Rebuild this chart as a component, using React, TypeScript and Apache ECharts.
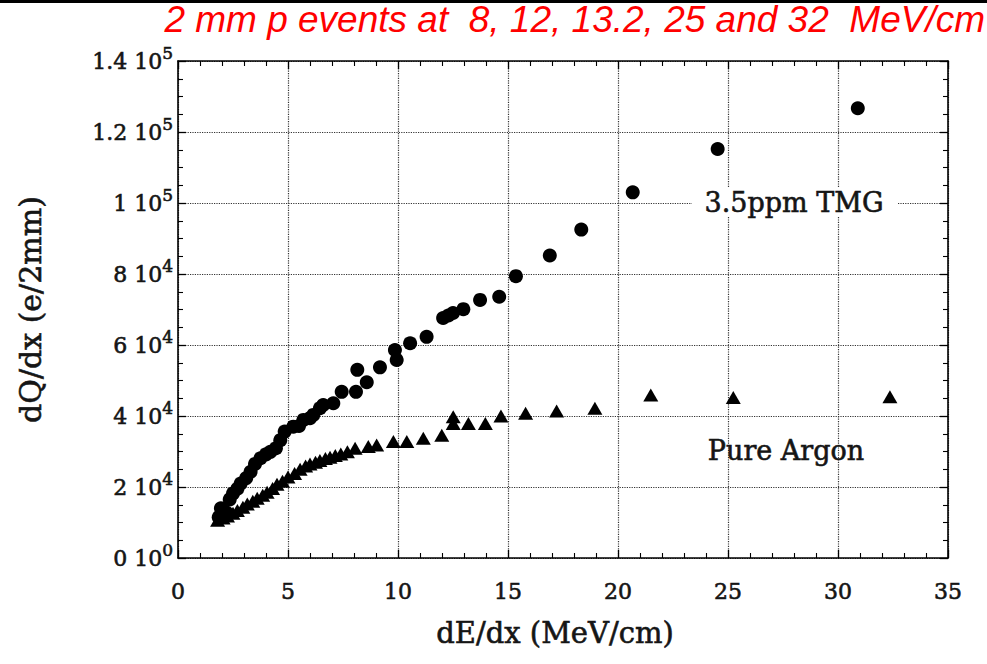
import React, { useEffect, useRef } from "react";
import * as echarts from "echarts";

// dE/dx (MeV/cm), dQ/dx (e/2mm)
const tmgPoints: [number, number][] = [
  [1.85, 11500], [1.95, 14000], [2.2, 12800], [2.35, 16500], [2.5, 18200],
  [2.7, 19500], [2.85, 21000], [3.1, 22500], [3.3, 24300], [3.5, 26500],
  [3.75, 28100], [4.0, 29200], [4.2, 29900], [4.45, 30900], [4.65, 33200],
  [4.85, 35600], [5.24, 37000], [5.5, 37200], [5.7, 38900], [6.0, 39400],
  [6.15, 40300], [6.45, 42200], [6.6, 43100], [7.06, 43600], [7.44, 46800],
  [8.09, 46800], [8.15, 53000], [8.58, 49500], [9.18, 53700], [9.86, 58600],
  [9.94, 55800], [10.55, 60500], [11.3, 62300], [12.05, 67600], [12.29, 68300],
  [12.5, 69000], [12.97, 70100], [13.73, 72700], [14.6, 73600], [15.36, 79400],
  [16.9, 85200], [18.33, 92500], [20.67, 103000], [24.53, 115200], [30.9, 126700],
];

const argonPoints: [number, number][] = [
  [1.8, 10600], [2.05, 11300], [2.25, 11800], [2.5, 12600], [2.7, 13400],
  [2.95, 14300], [3.15, 15200], [3.4, 16000], [3.6, 16800], [3.85, 17700],
  [4.05, 18500], [4.3, 19600], [4.5, 20800], [4.75, 21600], [5.0, 22800],
  [5.3, 23800], [5.55, 25000], [5.8, 25900], [6.0, 26500], [6.25, 27000],
  [6.45, 27500], [6.7, 28000], [6.91, 28400], [7.15, 28900], [7.4, 29300],
  [7.7, 29900], [8.05, 30900], [8.65, 31400], [9.03, 31800], [9.79, 32800],
  [10.4, 32800], [11.15, 33700], [11.99, 34600], [12.51, 37900], [12.51, 39800],
  [13.2, 37900], [13.97, 37900], [14.68, 40000], [15.8, 40800], [17.21, 41400],
  [18.95, 42200], [21.49, 45900], [25.24, 45200], [32.36, 45400],
];

const xTicks = { min: 0, max: 35, interval: 5 };
const yTicks = { min: 0, max: 140000, interval: 20000 };

const titleText = "2 mm p events at  8, 12, 13.2, 25 and 32  MeV/cm";
const xAxisTitle = "dE/dx (MeV/cm)";
const yAxisTitle = "dQ/dx (e/2mm)";
const tmgLabel = "3.5ppm TMG";
const argonLabel = "Pure Argon";

const SERIF = "DejaVu Serif";
const INK = "#151515";
const heavy = { textBorderColor: INK, textBorderWidth: 0.6 };

function yLabel(v: number): string {
  if (v === 0) return "{b|0 10}{s|0}";
  if (v >= 100000) return `{b|${+(v / 100000).toFixed(1)} 10}{s|5}`;
  return `{b|${+(v / 10000).toFixed(1)} 10}{s|4}`;
}

export default function App() {
  const ref = useRef<HTMLDivElement>(null);
  useEffect(() => {
    document.body.style.margin = "0";
    if (!ref.current) return;
    const chart = echarts.init(ref.current, undefined, { renderer: "svg" });
    const axisLine = { show: true, onZero: false, lineStyle: { color: "#000", width: 1.6 } };
    const axisTick = { show: true, inside: true, length: 8, lineStyle: { color: "#000", width: 1.3 } };
    const splitLine = { show: true, lineStyle: { type: "dotted", color: "#333", width: 1.2 } };
    const xMinor = { show: true, splitNumber: 5, length: 5, lineStyle: { color: "#000", width: 1.1 } };
    const yMinor = { show: true, splitNumber: 4, length: 5, lineStyle: { color: "#000", width: 1.1 } };
    chart.setOption({
      animation: false,
      backgroundColor: "#fff",
      grid: { left: 178, top: 61, width: 770, height: 497 },
      xAxis: [
        {
          type: "value", ...xTicks, position: "bottom",
          axisLine, axisTick, minorTick: xMinor, splitLine,
          axisLabel: { color: INK, fontFamily: SERIF, fontSize: 22, margin: 22, ...heavy },
          name: xAxisTitle, nameLocation: "middle", nameGap: 60,
          nameTextStyle: { color: INK, fontFamily: SERIF, fontSize: 29, padding: [0, 16, 0, 0], ...heavy },
        },
        {
          type: "value", ...xTicks, position: "top",
          axisLine, axisTick, minorTick: xMinor, splitLine: { show: false },
          axisLabel: { show: false },
        },
      ],
      yAxis: [
        {
          type: "value", ...yTicks, position: "left",
          axisLine, axisTick, minorTick: yMinor, splitLine,
          axisLabel: {
            formatter: yLabel, margin: 5,
            rich: {
              b: { color: INK, fontFamily: SERIF, fontSize: 22, ...heavy },
              s: { color: INK, fontFamily: SERIF, fontSize: 17, padding: [0, 0, 17, 0], ...heavy },
            },
          },
          name: yAxisTitle, nameLocation: "middle", nameGap: 133,
          nameTextStyle: { color: INK, fontFamily: SERIF, fontSize: 30, ...heavy },
        },
        {
          type: "value", ...yTicks, position: "right",
          axisLine, axisTick, minorTick: yMinor, splitLine: { show: false },
          axisLabel: { show: false },
        },
      ],
      series: [
        {
          name: tmgLabel, type: "scatter", data: tmgPoints, symbol: "circle", symbolSize: 14,
          itemStyle: { color: "#000", opacity: 1 }, z: 3,
        },
        {
          name: argonLabel, type: "scatter", data: argonPoints, symbol: "triangle", symbolSize: [15, 13],
          itemStyle: { color: "#000", opacity: 1 }, z: 3,
        },
      ],
      graphic: [
        { type: "rect", left: 0, top: 0, shape: { width: 987, height: 3 }, style: { fill: "#000" } },
        {
          type: "text", right: 2, top: 1,
          style: { text: titleText, fill: "#f00", fontFamily: "Liberation Sans", fontStyle: "italic", fontSize: 37 },
        },
        {
          type: "rect", x: 692, y: 188, z: 9,
          shape: { width: 206, height: 28 }, style: { fill: "#fff" },
        },
        {
          type: "text", x: 794, y: 202, z: 10,
          style: {
            text: tmgLabel, fill: INK, fontFamily: SERIF, fontSize: 27,
            stroke: INK, lineWidth: 0.6, align: "center", verticalAlign: "middle",
          },
        },
        {
          type: "text", x: 786, y: 450, z: 10,
          style: {
            text: argonLabel, fill: INK, fontFamily: SERIF, fontSize: 27,
            stroke: INK, lineWidth: 0.6, align: "center", verticalAlign: "middle",
          },
        },
      ],
    });
    return () => chart.dispose();
  }, []);
  return <div ref={ref} style={{ width: 987, height: 664 }} />;
}
